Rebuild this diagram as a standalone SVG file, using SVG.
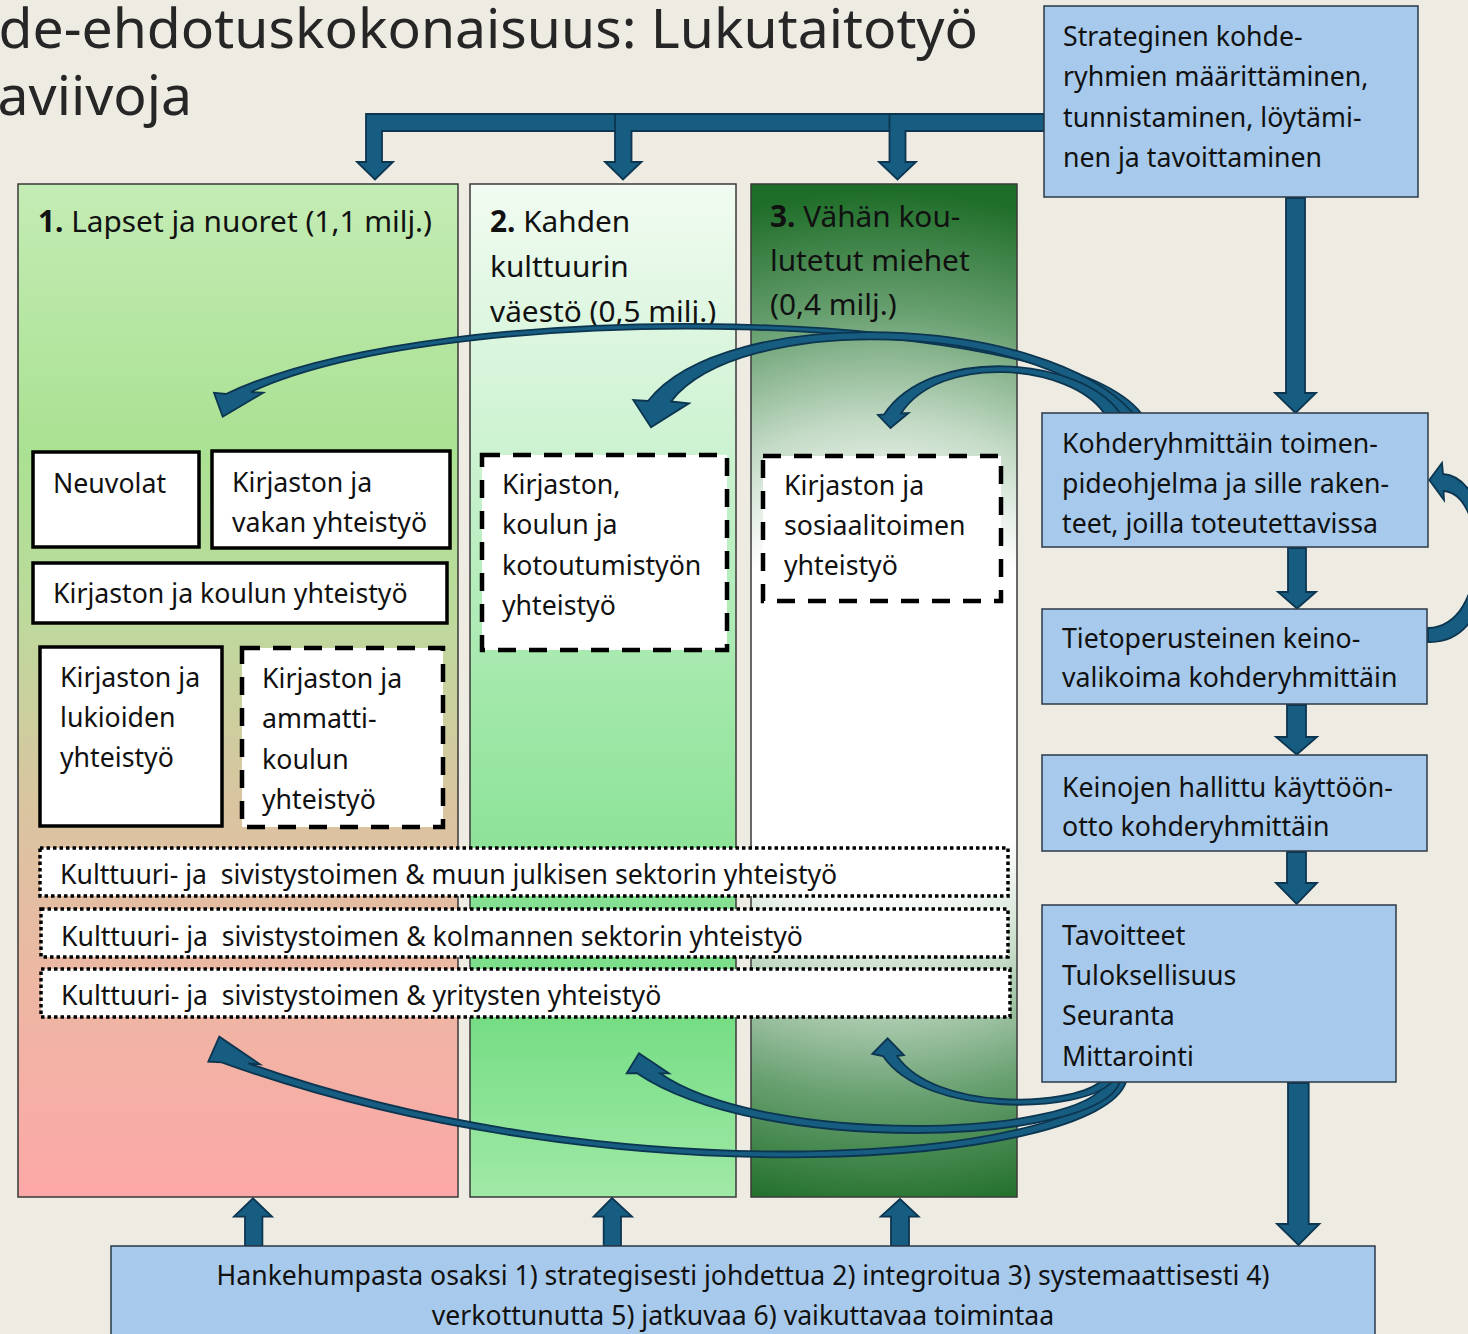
<svg xmlns="http://www.w3.org/2000/svg" width="1468" height="1334" viewBox="0 0 1468 1334">
<defs>
<linearGradient id="g1" x1="0" y1="184" x2="0" y2="1197" gradientUnits="userSpaceOnUse">
<stop offset="0" stop-color="#C4ECB5"/>
<stop offset="0.26" stop-color="#AAE192"/>
<stop offset="0.42" stop-color="#BCDA9C"/>
<stop offset="0.6" stop-color="#D8C6A0"/>
<stop offset="0.8" stop-color="#EEB6A3"/>
<stop offset="1" stop-color="#FDA8A8"/>
</linearGradient>
<linearGradient id="g2" x1="0" y1="184" x2="0" y2="1197" gradientUnits="userSpaceOnUse">
<stop offset="0" stop-color="#F1FBF1"/>
<stop offset="0.27" stop-color="#CBF2D0"/>
<stop offset="0.5" stop-color="#A2E8AA"/>
<stop offset="0.82" stop-color="#75DD84"/>
<stop offset="1" stop-color="#A0E9A6"/>
</linearGradient>
<radialGradient id="g3" cx="884" cy="705" r="515" gradientUnits="userSpaceOnUse">
<stop offset="0" stop-color="#FFFFFF"/>
<stop offset="0.36" stop-color="#FFFFFF"/>
<stop offset="0.55" stop-color="#C3DAC5"/>
<stop offset="0.76" stop-color="#6AA172"/>
<stop offset="1" stop-color="#1E6D28"/>
</radialGradient>
<style>
.t{font-family:"Noto Sans","Open Sans","Liberation Sans",sans-serif;fill:#111;}
.f26{font-size:26.7px}
.f25{font-size:26.6px}
.h{font-size:29.8px}
.b{font-weight:bold}
.col{stroke:#3A3A3A;stroke-width:1.5}
.sol{fill:#fff;stroke:#000;stroke-width:3.5}
.dsh{fill:#fff;stroke:#000;stroke-width:4.5;stroke-dasharray:18 13}
.dot{fill:#fff;stroke:#000;stroke-width:3.5;stroke-dasharray:3.5 3}
.bl{fill:#A7CAEC;stroke:#2B3A48;stroke-width:1.5}
.ar{fill:#175D82;stroke:#0C3550;stroke-width:1.8;stroke-linejoin:miter}
</style>
</defs>
<rect x="0" y="0" width="1468" height="1334" fill="#EEEBE3"/>

<g id="title">
<text class="t" x="978" y="48" text-anchor="end" style="font-size:55.3px;fill:#262626">de-ehdotuskokonaisuus: Lukutaitotyö</text>
<text class="t" x="192" y="115" text-anchor="end" style="font-size:55.3px;fill:#262626">aviivoja</text>
</g>

<g id="column1">
<rect class="col" x="18" y="184" width="440" height="1013" fill="url(#g1)"/>
<text class="t h" x="38" y="232"><tspan class="b">1.</tspan> Lapset ja nuoret (1,1 milj.)</text>
</g>
<g id="column2">
<rect class="col" x="470" y="184" width="266" height="1013" fill="url(#g2)"/>
<text class="t h" x="490" y="232"><tspan class="b">2.</tspan> Kahden</text>
<text class="t h" x="490" y="277">kulttuurin</text>
<text class="t h" x="490" y="322">väestö (0,5 milj.)</text>
</g>
<g id="column3">
<rect class="col" x="751" y="184" width="266" height="1013" fill="url(#g3)"/>
<text class="t h" x="770" y="227"><tspan class="b">3.</tspan> Vähän kou-</text>
<text class="t h" x="770" y="271">lutetut miehet</text>
<text class="t h" x="770" y="315">(0,4 milj.)</text>
</g>

<g id="neuvolat">
<rect class="sol" x="33" y="452" width="166" height="95"/>
<text class="t f26" x="53" y="493">Neuvolat</text>
</g>
<g id="vakan">
<rect class="sol" x="212" y="451" width="238" height="97"/>
<text class="t f26" x="232" y="492">Kirjaston ja</text>
<text class="t f26" x="232" y="532">vakan yhteistyö</text>
</g>
<g id="koulun">
<rect class="sol" x="33" y="563" width="414" height="60"/>
<text class="t f26" x="53" y="603">Kirjaston ja koulun yhteistyö</text>
</g>
<g id="lukioiden">
<rect class="sol" x="40" y="647" width="182" height="179"/>
<text class="t f26" x="60" y="687">Kirjaston ja</text>
<text class="t f26" x="60" y="727">lukioiden</text>
<text class="t f26" x="60" y="767">yhteistyö</text>
</g>
<g id="ammattikoulun">
<rect class="dsh" x="242" y="648" width="201" height="179"/>
<text class="t f26" x="262" y="688">Kirjaston ja</text>
<text class="t f26" x="262" y="728">ammatti-</text>
<text class="t f26" x="262" y="769">koulun</text>
<text class="t f26" x="262" y="809">yhteistyö</text>
</g>
<g id="kotoutumis">
<rect class="dsh" x="482" y="455" width="245" height="195"/>
<text class="t f26" x="502" y="494">Kirjaston,</text>
<text class="t f26" x="502" y="534">koulun ja</text>
<text class="t f26" x="502" y="575">kotoutumistyön</text>
<text class="t f26" x="502" y="615">yhteistyö</text>
</g>
<g id="sosiaalitoimen">
<rect class="dsh" x="763" y="456" width="238" height="145"/>
<text class="t f26" x="784" y="495">Kirjaston ja</text>
<text class="t f26" x="784" y="535">sosiaalitoimen</text>
<text class="t f26" x="784" y="575">yhteistyö</text>
</g>

<g id="bar-julkinen">
<rect class="dot" x="40" y="848" width="968" height="48"/>
<text class="t f25" x="60" y="884" xml:space="preserve">Kulttuuri- ja  sivistystoimen &amp; muun julkisen sektorin yhteistyö</text>
</g>
<g id="bar-kolmas">
<rect class="dot" x="41" y="909" width="967" height="48"/>
<text class="t f25" x="61" y="946" xml:space="preserve">Kulttuuri- ja  sivistystoimen &amp; kolmannen sektorin yhteistyö</text>
</g>
<g id="bar-yritykset">
<rect class="dot" x="41" y="969" width="969" height="48"/>
<text class="t f25" x="61" y="1005" xml:space="preserve">Kulttuuri- ja  sivistystoimen &amp; yritysten yhteistyö</text>
</g>

<g id="connectors">
<path class="ar" d="M1044,114 L366,114 L366,162 L357,162 L375,179.5 L393,162 L382,162 L382,131 L1044,131 Z"/>
<path class="ar" d="M1044,114 L615,114 L615,162 L605,162 L623,179.5 L641.5,162 L631.5,162 L631.5,131 L1044,131 Z"/>
<path class="ar" d="M1044,114 L889.5,114 L889.5,162 L879,162 L897.5,179.5 L916,162 L905.5,162 L905.5,131 L1044,131 Z"/>
<path class="ar" d="M1286,198 L1305,198 L1305,393 L1316,393 L1295.5,413 L1275,393 L1286,393 Z"/>
<path class="ar" d="M1288,548 L1306,548 L1306,592 L1316,592 L1297,608.5 L1278,592 L1288,592 Z"/>
<path class="ar" d="M1287,705 L1306,705 L1306,737 L1317,737 L1296.7,754.5 L1276,737 L1287,737 Z"/>
<path class="ar" d="M1287,852 L1306,852 L1306,883 L1317,883 L1296.7,904 L1276,883 L1287,883 Z"/>
<path class="ar" d="M1288,1083 L1308.7,1083 L1308.7,1224 L1319.4,1224 L1298.5,1245 L1277,1224 L1288,1224 Z"/>
<path class="ar" d="M245,1246 L245,1216.7 L234,1216.7 L253,1198.3 L272,1216.7 L262.4,1216.7 L262.4,1246 Z"/>
<path class="ar" d="M603.7,1246 L603.7,1216.7 L593.7,1216.7 L612,1198 L632,1216.7 L621,1216.7 L621,1246 Z"/>
<path class="ar" d="M891,1246 L891,1216.7 L880.7,1216.7 L900,1199 L918.7,1216.7 L909,1216.7 L909,1246 Z"/>
<path class="ar" d="M1141,413 C1055,306 445,290 226,394 L214,392.7 L222.7,416.7 L263.3,392.7 L251,392 C455,297 1065,313 1128,413 Z"/>
<path class="ar" d="M1133,413 C1045,313 725,302 648,401 L633.3,400 L651,427.3 L689,403.3 L671,401.5 C740,312 1035,322 1115,413 Z"/>
<path class="ar" d="M1120,413 C1080,356 930,345 884,414.5 L878,415 L890.5,428 L908.5,413 L901,413.5 C940,353 1070,364 1104,413 Z"/>
<path class="ar" d="M1126,1082 C1098,1166 615,1205 221.7,1062.3 L208.3,1061.7 L219.3,1036.7 L260,1064.3 L248.3,1063.3 C625,1197 1082,1158 1110,1082 Z"/>
<path class="ar" d="M1120,1082 C1097,1146 760,1157 636.7,1073 L626.7,1073.3 L639,1053.3 L669,1073.3 L660,1073.3 C765,1146 1083,1138 1106,1082 Z"/>
<path class="ar" d="M1112,1082 C1082,1114 925,1118 883,1056 L872.3,1054 L887.6,1038.3 L903.9,1055 L897,1056 C935,1111 1068,1107 1100,1082 Z"/>
<path class="ar" d="M1428,642 C1510,645 1500,478 1443,474 L1442,463 L1429.3,480 L1444,500 L1443.5,491 C1488,494 1490,626 1428,628 Z"/>
</g>

<g id="strateginen">
<rect class="bl" x="1044" y="6" width="374" height="191"/>
<text class="t f26" x="1063" y="46">Strateginen kohde-</text>
<text class="t f26" x="1063" y="86">ryhmien määrittäminen,</text>
<text class="t f26" x="1063" y="127">tunnistaminen, löytämi-</text>
<text class="t f26" x="1063" y="167">nen ja tavoittaminen</text>
</g>
<g id="toimenpideohjelma">
<rect class="bl" x="1042" y="413" width="386" height="134"/>
<text class="t f26" x="1062" y="453">Kohderyhmittäin toimen-</text>
<text class="t f26" x="1062" y="493">pideohjelma ja sille raken-</text>
<text class="t f26" x="1062" y="533">teet, joilla toteutettavissa</text>
</g>
<g id="keinovalikoima">
<rect class="bl" x="1042" y="609" width="385" height="95"/>
<text class="t f26" x="1062" y="648">Tietoperusteinen keino-</text>
<text class="t f26" x="1062" y="687">valikoima kohderyhmittäin</text>
</g>
<g id="kayttoonotto">
<rect class="bl" x="1042" y="755" width="385" height="96"/>
<text class="t f26" x="1062" y="797">Keinojen hallittu käyttöön-</text>
<text class="t f26" x="1062" y="836">otto kohderyhmittäin</text>
</g>
<g id="tavoitteet">
<rect class="bl" x="1042" y="905" width="354" height="177"/>
<text class="t f26" x="1062" y="945">Tavoitteet</text>
<text class="t f26" x="1062" y="985">Tuloksellisuus</text>
<text class="t f26" x="1062" y="1025">Seuranta</text>
<text class="t f26" x="1062" y="1066">Mittarointi</text>
</g>
<g id="hankehumpasta">
<rect class="bl" x="111" y="1246" width="1264" height="100"/>
<text class="t f25" x="743" y="1285" text-anchor="middle">Hankehumpasta osaksi 1) strategisesti johdettua 2) integroitua 3) systemaattisesti 4)</text>
<text class="t f25" x="743" y="1325" text-anchor="middle">verkottunutta 5) jatkuvaa 6) vaikuttavaa toimintaa</text>
</g>
</svg>
